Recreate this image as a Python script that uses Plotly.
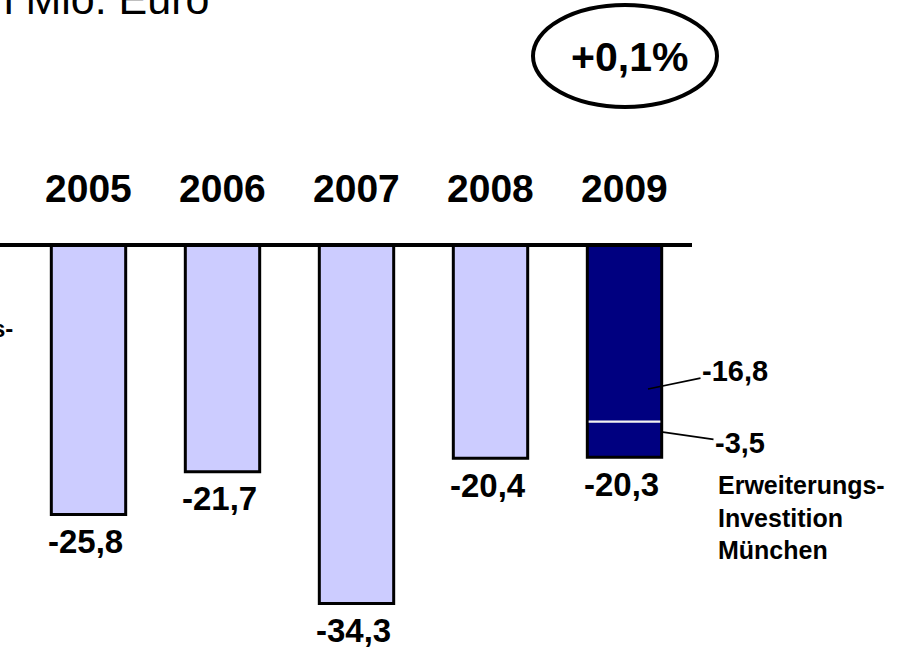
import plotly.graph_objects as go

# ---- data ----
years = ["2005", "2006", "2007", "2008", "2009"]
values = [-25.8, -21.7, -34.3, -20.4, -20.3]
seg_2009 = [-16.8, -3.5]          # 2009 split: operating part / expansion investment
change_label = "+0,1%"
unit_label = "in Mio. Euro"
note_label = "Erweiterungs-<br>Investition<br>München"
left_label = "s-"


def de(v):
    return f"{v:.1f}".replace(".", ",")


# ---- layout constants ----
FONT = "Liberation Sans, Arial, sans-serif"
W, H = 912, 647
PX_PER_UNIT = 10.45
BASE_PX = 245
X0_PX, STEP_PX = 88.5, 134.0

light, dark = "#CCCCFF", "#000080"
colors = [light] * (len(years) - 1) + [dark]
xpos = list(range(len(years)))
last = xpos[-1]

fig = go.Figure()
fig.add_trace(go.Bar(
    x=xpos, y=values, width=0.555,
    marker=dict(color=colors, line=dict(color="black", width=3)),
    hoverinfo="skip",
))
# thin light separator inside the 2009 bar at the segment boundary
fig.add_trace(go.Bar(
    x=[last], base=[seg_2009[0]], y=[-0.2], width=0.535,
    marker=dict(color="#f2f2f2", line=dict(width=0)),
    hoverinfo="skip",
))

annotations = []
# year labels above baseline
for i, yr in zip(xpos, years):
    annotations.append(dict(
        x=i, y=0, xref="x", yref="y", yshift=57, showarrow=False,
        text=f"<b>{yr}</b>", font=dict(family=FONT, size=39, color="black"),
        xanchor="center", yanchor="middle",
    ))
# value labels below bars
for i, v in zip(xpos, values):
    annotations.append(dict(
        x=i, y=v, xref="x", yref="y", yshift=-27, xshift=-3, showarrow=False,
        text=f"<b>{de(v)}</b>", font=dict(family=FONT, size=33, color="black"),
        xanchor="center", yanchor="middle",
    ))
# callouts for 2009 segments
annotations.append(dict(
    x=last, y=seg_2009[0], xref="x", yref="y", xshift=23.5, yshift=31.6,
    showarrow=True, arrowhead=0, arrowwidth=1.6, arrowcolor="black",
    ax=87, ay=-18, standoff=0,
    text=f"<b>{de(seg_2009[0])}</b>", font=dict(family=FONT, size=29, color="black"),
))
annotations.append(dict(
    x=last, y=values[-1], xref="x", yref="y", xshift=38.5, yshift=25,
    showarrow=True, arrowhead=0, arrowwidth=1.6, arrowcolor="black",
    ax=77, ay=11, standoff=0,
    text=f"<b>{de(seg_2009[1])}</b>", font=dict(family=FONT, size=29, color="black"),
))
annotations.append(dict(
    x=last, y=values[-1], xref="x", yref="y", xshift=91, yshift=-12,
    showarrow=False, xanchor="left", yanchor="top", align="left",
    text=f"<b>{note_label}</b>", font=dict(family=FONT, size=25, color="black"),
))
# unit label (cut at the top-left edge, as in the original)
annotations.append(dict(
    x=211 / W, y=1 - 25 / H, xref="paper", yref="paper", showarrow=False,
    xanchor="right", yanchor="bottom",
    text=unit_label, font=dict(family=FONT, size=43, color="black"),
))
# change in ellipse
annotations.append(dict(
    x=629 / W, y=1 - 57 / H, xref="paper", yref="paper", showarrow=False,
    xanchor="center", yanchor="middle",
    text=f"<b>{change_label}</b>", font=dict(family=FONT, size=41, color="black"),
))
# partial left label
annotations.append(dict(
    x=0, y=1 - 328 / H, xref="paper", yref="paper", showarrow=False,
    xanchor="left", yanchor="middle", xshift=-10,
    text=f"<b>{left_label}</b>", font=dict(family=FONT, size=24, color="black"),
))

shapes = [
    dict(type="line", xref="paper", yref="y", x0=0, x1=692 / W, y0=0, y1=0,
         line=dict(color="black", width=4), layer="above"),
    dict(type="circle", xref="paper", yref="paper",
         x0=533 / W, x1=717 / W, y0=1 - 107 / H, y1=1 - 5 / H,
         line=dict(color="black", width=4), fillcolor="rgba(0,0,0,0)"),
]

hidden = dict(showgrid=False, zeroline=False, showline=False, showticklabels=False,
              ticks="", fixedrange=True)
fig.update_layout(
    width=W, height=H,
    margin=dict(l=0, r=0, t=0, b=0, pad=0),
    paper_bgcolor="white", plot_bgcolor="white",
    barmode="overlay", showlegend=False,
    xaxis=dict(range=[-X0_PX / STEP_PX, (W - X0_PX) / STEP_PX], **hidden),
    yaxis=dict(range=[-(H - BASE_PX) / PX_PER_UNIT, BASE_PX / PX_PER_UNIT], **hidden),
    annotations=annotations,
    shapes=shapes,
    font=dict(family=FONT),
)

fig.write_html(
    "out.html",
    config={"displayModeBar": False},
    post_script="document.body.style.margin='0';document.body.style.overflow='hidden';",
)
